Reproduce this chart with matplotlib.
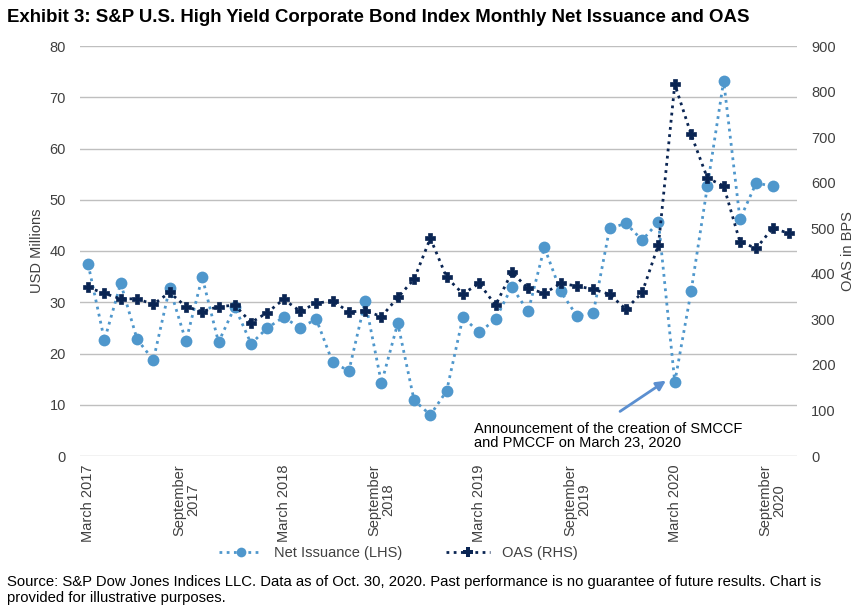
import matplotlib.pyplot as plt
from matplotlib.lines import Line2D

# monthly data, March 2017 - October 2020
months = list(range(44))
net_issuance = [37.4, 22.6, 33.7, 22.8, 18.7, 32.8, 22.4, 34.9, 22.2, 29.1,
                21.9, 25.0, 27.1, 25.0, 26.7, 18.3, 16.6, 30.2, 14.2, 25.9,
                10.9, 8.0, 12.7, 27.1, 24.1, 26.7, 33.0, 28.2, 40.7, 32.1,
                27.3, 27.9, 44.4, 45.4, 42.1, 45.7, 14.4, 32.1, 52.6, 73.2,
                46.2, 53.3, 52.6]
oas = [370, 357, 345, 345, 333, 359, 328, 317, 328, 331,
       293, 315, 344, 318, 335, 341, 316, 319, 306, 348,
       388, 478, 392, 356, 379, 331, 403, 368, 357, 379,
       373, 366, 355, 322, 359, 464, 816, 706, 610, 593,
       470, 456, 500, 489]
tick_pos = [0, 6, 12, 18, 24, 30, 36, 42]
tick_labels = ['March 2017', 'September\n2017', 'March 2018', 'September\n2018',
               'March 2019', 'September\n2019', 'March 2020', 'September\n2020']

ni_color = '#4f97cc'
oas_color = '#0a2553'
text_color = '#404040'

plt.rcParams['font.family'] = ['Liberation Sans', 'DejaVu Sans']

fig = plt.figure(figsize=(8.6, 6.16), dpi=100)
ax = fig.add_axes([80 / 860, 1 - 456 / 616, 717 / 860, 410 / 616])
ax2 = ax.twinx()

ax.plot(months[:len(net_issuance)], net_issuance, color=ni_color, linestyle=(0, (1, 1.6)),
        lw=2, marker='o', markersize=8.5, markeredgewidth=0, zorder=3)
ax2.plot(months, oas, color=oas_color, linestyle=(0, (1, 1.6)), lw=2,
         marker='P', markersize=7.5, markeredgewidth=0.5, markeredgecolor=oas_color, zorder=3)

ax.set_xlim(-0.5, 43.5)
ax.set_ylim(0, 80)
ax2.set_ylim(0, 900)
ax.set_yticks(range(0, 81, 10))
ax2.set_yticks(range(0, 901, 100))
ax.grid(axis='y', color='#bfbfbf', lw=1)
ax.set_axisbelow(True)

ax.set_xticks(tick_pos)
ax.set_xticklabels(tick_labels, rotation=90, ha='center', va='top',
                   fontsize=10.5, color=text_color, linespacing=1.0)
for a in (ax, ax2):
    for s in a.spines.values():
        s.set_visible(False)
    a.tick_params(length=0, labelsize=10.5, labelcolor=text_color)
ax.tick_params(axis='y', pad=10)
ax.tick_params(axis='x', pad=6)
ax2.tick_params(axis='y', pad=10)

ax.set_ylabel('USD Millions', fontsize=10.5, color=text_color, labelpad=4)
ax2.set_ylabel('OAS in BPS', fontsize=10.5, color=text_color, labelpad=4)

# annotation for the Fed facility announcement
ax.annotate('', xy=(35.6, 15.0), xytext=(32.5, 8.4),
            arrowprops=dict(arrowstyle='-|>', color='#5b8fd0', lw=2, mutation_scale=14))
ax.text(23.7, 6.6, 'Announcement of the creation of SMCCF\nand PMCCF on March 23, 2020',
        fontsize=10.5, color='black', va='top', ha='left', linespacing=1.0)

fig.text(7 / 860, 1 - 18 / 616,
         'Exhibit 3: S&P U.S. High Yield Corporate Bond Index Monthly Net Issuance and OAS',
         fontsize=13.4, fontweight='bold', va='center', ha='left')

handles = [Line2D([], [], color=ni_color, linestyle=(0, (1, 1.6)), lw=2, marker='o',
                  markersize=7, markeredgewidth=0),
           Line2D([], [], color=oas_color, linestyle=(0, (1, 1.6)), lw=2, marker='P',
                  markersize=7, markeredgewidth=0)]
fig.legend(handles, ['Net Issuance (LHS)', 'OAS (RHS)'], loc='center',
           bbox_to_anchor=(398 / 860, 1 - 553 / 616), ncol=2, frameon=False,
           fontsize=10.5, handlelength=3, columnspacing=3, labelcolor=text_color)

fig.text(7 / 860, 1 - 590 / 616,
         'Source: S&P Dow Jones Indices LLC. Data as of Oct. 30, 2020. Past performance is no guarantee of future results. Chart is\nprovided for illustrative purposes.',
         fontsize=10.7, va='center', ha='left', linespacing=1.1)

plt.savefig('out.png', dpi=100)
